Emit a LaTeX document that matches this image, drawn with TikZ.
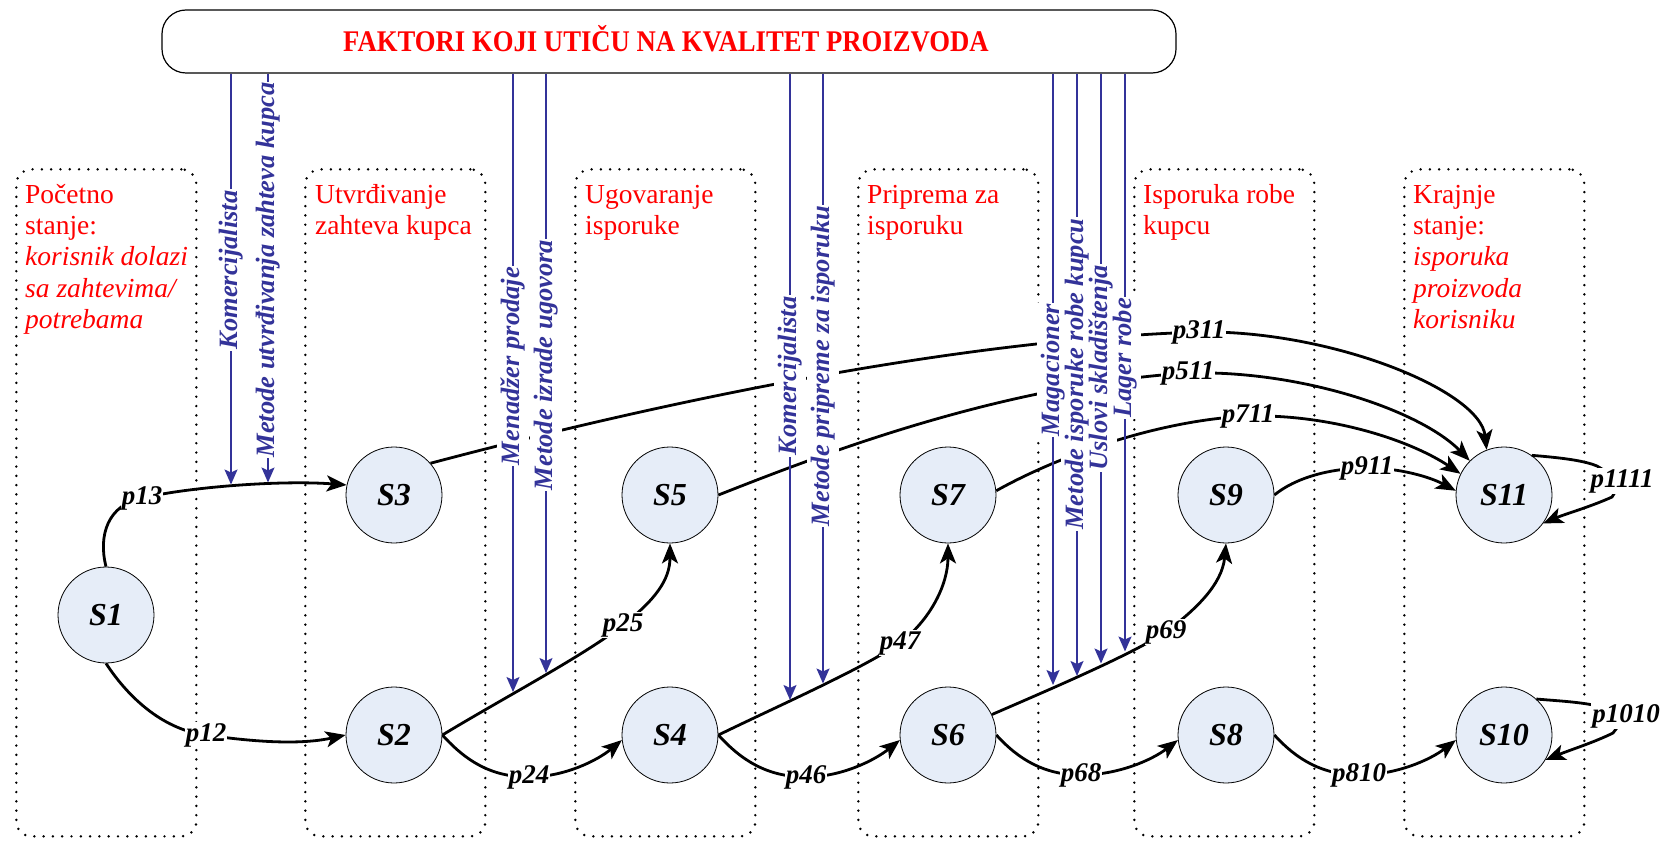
\documentclass[tikz,border=0pt]{standalone}
\usepackage{fontspec}
\usepackage{graphicx}
\setmainfont{Liberation Serif}
\usetikzlibrary{arrows.meta}
\definecolor{fblue}{HTML}{333399}
\definecolor{sfill}{HTML}{E6EDF8}
\begin{document}
\begin{tikzpicture}[x=1pt,y=-1pt,
  stbox/.style={draw=black, line width=2.7pt, dash pattern=on 0pt off 9.3pt, line cap=round, rounded corners=15pt, minimum width=180pt, minimum height=667pt, anchor=north west, inner sep=0pt},
  redtxt/.style={text=red, anchor=north west, inner sep=0pt, align=left, font=\fontsize{27.5pt}{31.3pt}\selectfont},
  state/.style={circle, draw=black, line width=0.8pt, fill=sfill, minimum size=96pt, inner sep=0pt, font=\fontsize{32pt}{32pt}\selectfont\bfseries\itshape},
  conn/.style={line width=2.8pt, -{Stealth[length=20pt,width=16pt,inset=5pt]}},
  plab/.style={fill=white, inner sep=1pt, font=\fontsize{27pt}{27pt}\selectfont\bfseries\itshape},
  fact/.style={draw=fblue, line width=1.6pt, -{Stealth[length=15pt,width=13pt,inset=3pt]}},
  flabbg/.style={rotate=90, fill=white, text opacity=0, inner xsep=1pt, inner ysep=4pt, font=\fontsize{26.5pt}{26.5pt}\selectfont\bfseries\itshape},
  flab/.style={rotate=90, text=fblue, inner xsep=1pt, inner ysep=4pt, font=\fontsize{26.5pt}{26.5pt}\selectfont\bfseries\itshape},
  topbox/.style={draw=black, line width=1.2pt, fill=white, rounded corners=24pt, minimum width=1014pt, minimum height=63pt, inner sep=0pt},
  title/.style={text=red, inner sep=0pt, anchor=base, font=\fontsize{30pt}{30pt}\selectfont\bfseries}
]
\useasboundingbox (0,0) rectangle (1665,842);
\fill[white] (0,0) rectangle (1665,842);

% dotted phase boxes
\node[stbox] (b1) at (15,168) {};
\node[stbox] (b2) at (304,168) {};
\node[stbox] (b3) at (574,168) {};
\node[stbox] (b4) at (857,168) {};
\node[stbox] (b5) at (1133,168) {};
\node[stbox] (b6) at (1403,168) {};

% phase texts
\node[redtxt] (t1) at (25,181) {\strut Početno\\stanje:\\\textit{korisnik dolazi}\\\textit{sa zahtevima/}\\\textit{potrebama}};
\node[redtxt] (t2) at (315,181) {\strut Utvrđivanje\\zahteva kupca};
\node[redtxt] (t3) at (585,181) {\strut Ugovaranje\\isporuke};
\node[redtxt] (t4) at (867,181) {\strut Priprema za\\isporuku};
\node[redtxt] (t5) at (1143,181) {\strut Isporuka robe\\kupcu};
\node[redtxt] (t6) at (1413,181) {\strut Krajnje\\stanje:\\\textit{isporuka}\\\textit{proizvoda}\\\textit{korisniku}};

% top box
\node[topbox] (top) at (669,41.5) {};
\node[title] (ttl) at (666,52) {\scalebox{0.89}[1]{FAKTORI KOJI UTIČU NA KVALITET PROIZVODA}};

% states
\node[state] (s1) at (106,615) {S1};
\node[state] (s3) at (394,495) {S3};
\node[state] (s2) at (394,735) {S2};
\node[state] (s5) at (670,495) {S5};
\node[state] (s4) at (670,735) {S4};
\node[state] (s7) at (948,495) {S7};
\node[state] (s6) at (948,735) {S6};
\node[state] (s9) at (1226,495) {S9};
\node[state] (s8) at (1226,735) {S8};
\node[state] (s11) at (1504,495) {S11};
\node[state] (s10) at (1504,735) {S10};

% transitions
\draw[conn] (s1.north) .. controls (98,535) and (108,505) .. (142,498) node[plab] (l13) {p13} .. controls (190,487) and (280,480) .. (s3.168);
\draw[conn] (s1.south) .. controls (130,700) and (165,730) .. (206,735) node[plab] (l12) {p12} .. controls (255,742) and (300,745) .. (s2.west);
\draw[conn] (s2.east) .. controls (465,760) and (490,777) .. (529,777) node[plab] (l24) {p24} .. controls (565,777) and (598,760) .. (s4.186);
\draw[conn] (s2.east) .. controls (500,700) and (585,655) .. (623,625) node[plab] (l25) {p25} .. controls (655,600) and (670,580) .. (s5.south);
\draw[conn] (s4.east) .. controls (741,760) and (767,777) .. (806,777) node[plab] (l46) {p46} .. controls (842,777) and (875,760) .. (s6.186);
\draw[conn] (s4.east) .. controls (780,705) and (860,670) .. (900,643) node[plab] (l47) {p47} .. controls (930,620) and (948,585) .. (s7.south);
\draw[conn] (s6.east) .. controls (1019,760) and (1045,775) .. (1081,775) node[plab] (l68) {p68} .. controls (1118,775) and (1152,760) .. (s8.186);
\draw[conn] (s6.25) .. controls (1060,685) and (1130,655) .. (1166,632) node[plab] (l69) {p69} .. controls (1195,610) and (1222,585) .. (s9.south);
\draw[conn] (s8.east) .. controls (1297,760) and (1323,775) .. (1359,775) node[plab] (l810) {p810} .. controls (1396,775) and (1430,760) .. (s10.186);
\draw[conn] (s9.east) .. controls (1295,478) and (1330,468) .. (1367,468) node[plab] (l911) {p911} .. controls (1400,468) and (1430,477) .. (s11.175);
\draw[conn] (s7.5) .. controls (1060,455) and (1160,420) .. (1248,416) node[plab] (l711) {p711} .. controls (1330,414) and (1410,440) .. (s11.154);
\draw[conn] (s5.east) .. controls (820,455) and (1000,385) .. (1188,373) node[plab] (l511) {p511} .. controls (1300,370) and (1420,410) .. (s11.135);
\draw[conn] (s3.41) .. controls (650,405) and (950,340) .. (1199,332) node[plab] (l311) {p311} .. controls (1330,330) and (1480,390) .. (s11.111);
\draw[conn] (s11.55) .. controls (1565,458) and (1585,461) .. (1597,466) -- (1622,481) node[plab] (l1111) {p1111} -- (1612,497) .. controls (1590,507) and (1565,514) .. (s11.-36);
\draw[conn] (s10.48) .. controls (1560,701) and (1580,702) .. (1598,706) -- (1626,716) node[plab] (l1010) {p1010} -- (1613,733) .. controls (1595,742) and (1570,750) .. (s10.-31);

% factor arrows
\foreach \i/\x/\tip in {1/231/484.5, 2/268/482.5, 3/513/692, 4/546/673, 5/790/700, 6/823/683.5, 7/1053/685, 8/1077/676, 9/1101/663.5, 10/1125/651.5}{
  \coordinate (f\i) at (\x,\tip);
  \draw[fact] (top.south -| f\i) -- (f\i);
}
\foreach \i/\x/\y/\t in {1/231/270/Komercijalista, 2/268/270/Metode utvrđivanja zahteva kupca, 3/513/366/Menadžer prodaje, 4/546/365/Metode izrade ugovora, 5/790/376/Komercijalista, 6/823/366/Metode pripreme za isporuku, 7/1053/370/Magacioner, 8/1077/374/Metode isporuke robe kupcu, 9/1101/368/Uslovi skladištenja, 10/1125/358/Lager robe}{
  \node[flabbg] (fb\i) at (\x,\y) {\t};
}
\foreach \i/\x/\y/\t in {1/231/270/Komercijalista, 2/268/270/Metode utvrđivanja zahteva kupca, 3/513/366/Menadžer prodaje, 4/546/365/Metode izrade ugovora, 5/790/376/Komercijalista, 6/823/366/Metode pripreme za isporuku, 7/1053/370/Magacioner, 8/1077/374/Metode isporuke robe kupcu, 9/1101/368/Uslovi skladištenja, 10/1125/358/Lager robe}{
  \node[flab] (fl\i) at (\x,\y) {\t};
}
\end{tikzpicture}
\end{document}
